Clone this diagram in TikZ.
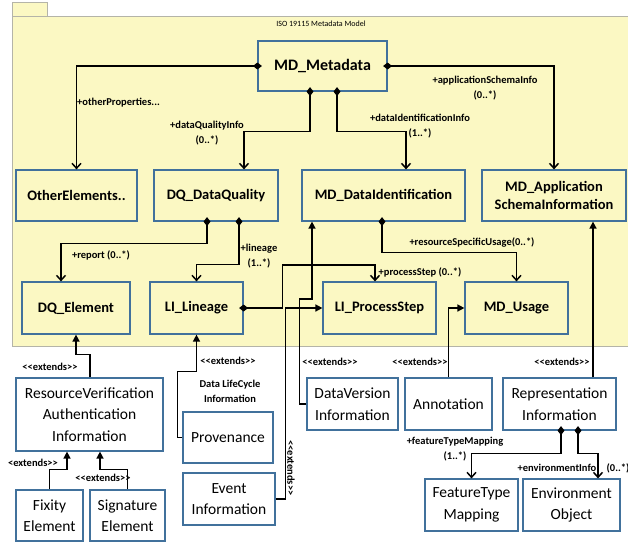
\documentclass[tikz,border=0pt]{standalone}
\usepackage{fontspec}
\setmainfont{Carlito}
\usepackage{tikz}
\usetikzlibrary{arrows.meta,positioning}
\definecolor{pkgyellow}{HTML}{FBF8C3}
\definecolor{pkgline}{HTML}{B4B4A8}
\definecolor{boxblue}{HTML}{41719C}
\newcommand{\xtends}{<\kern0pt<extends>\kern0pt>}

\begin{document}
\begin{tikzpicture}[x=1pt,y=-1pt,
  umlbox/.style={draw=boxblue,line width=1.2pt,fill=pkgyellow,align=center,inner sep=0pt,minimum height=51pt,font=\bfseries\fontsize{14.5}{18}\selectfont},
  extbox/.style={draw=boxblue,line width=1.2pt,fill=white,align=center,inner sep=0pt,minimum height=52pt,font=\fontsize{15.5}{21.5}\selectfont},
  lbl/.style={inner sep=0pt,align=center,font=\bfseries\fontsize{10.5}{15}\selectfont},
  comp/.style={line width=1.5pt,{Diamond[length=9pt,width=7pt]}-{Straight Barb[length=5pt,width=9pt]},shorten <=-4.5pt},
  ext/.style={line width=1.5pt,-{Triangle[length=7pt,width=7pt]}}]
\useasboundingbox (0,0) rectangle (628,542);
\fill[white] (0,0) rectangle (628,542);
\draw[pkgline,fill=pkgyellow] (12,2) rectangle (47,16);
\draw[pkgline,fill=pkgyellow] (12,16) rectangle (632,346);
\node[inner sep=0pt,font=\fontsize{8}{9}\selectfont] (title) at (321,24) {ISO 19115 Metadata Model};

\node[umlbox,minimum width=129pt,minimum height=50pt,font=\bfseries\fontsize{16}{19}\selectfont] (meta) at (322.5,66) {MD\_Metadata};
\node[umlbox,minimum width=121pt] (other) at (76.5,195.5) {OtherElements..};
\node[umlbox,minimum width=124pt] (dq) at (216,195.5) {DQ\_DataQuality};
\node[umlbox,minimum width=163pt] (ident) at (383.5,195.5) {MD\_DataIdentification};
\node[umlbox,minimum width=144pt] (app) at (554,195.5) {MD\_Application\\SchemaInformation};
\node[umlbox,minimum width=108pt,minimum height=52pt] (dqel) at (76,308) {DQ\_Element};
\node[umlbox,minimum width=93pt,minimum height=52pt] (lin) at (196.5,308) {LI\_Lineage};
\node[umlbox,minimum width=113pt,minimum height=52pt] (pstep) at (379.5,308) {LI\_ProcessStep};
\node[umlbox,minimum width=103pt,minimum height=52pt] (usage) at (516.5,308) {MD\_Usage};

\node[extbox,minimum width=147pt,minimum height=73pt] (rvai) at (89.5,414.5) {ResourceVerification\\Authentication\\Information};
\node[extbox,minimum width=67pt,minimum height=51pt] (fixity) at (49.5,515.5) {Fixity\\Element};
\node[extbox,minimum width=75pt,minimum height=51pt] (sig) at (127.5,515.5) {Signature\\Element};
\node[extbox,minimum width=90pt,minimum height=51pt] (prov) at (228,437.5) {Provenance};
\node[extbox,minimum width=92pt] (event) at (229,499) {Event\\Information};
\node[extbox,minimum width=91pt] (dver) at (352.5,404) {DataVersion\\Information};
\node[extbox,minimum width=87pt] (annot) at (448.5,404) {Annotation};
\node[extbox,minimum width=113pt] (repr) at (559.5,404) {Representation\\Information};
\node[extbox,minimum width=93pt] (ftm) at (471.5,505) {FeatureType\\Mapping};
\node[extbox,minimum width=97pt] (env) at (571.5,505) {Environment\\Object};

\draw[comp] (meta.west) -| (other.north);
\draw[comp] ([xshift=-12.5pt]meta.south) -- ++(0,40) -| ([xshift=28pt]dq.north);
\draw[comp] ([xshift=14.5pt]meta.south) -- ++(0,40) -| ([xshift=22.5pt]ident.north);
\draw[comp] (meta.east) -| (app.north);
\draw[comp] ([xshift=-9pt]dq.south) -- ++(0,22) -| ([xshift=-15pt]dqel.north);
\draw[comp] ([xshift=23pt]dq.south) -- ++(0,43) -| (lin.north);
\draw[comp] (lin.east) -- ++(39,0) -- ++(0,-43) -| ([xshift=-4.5pt]pstep.north);
\draw[comp] ([xshift=-1.5pt]ident.south) -- ++(0,31) -| (usage.north);
\draw[comp] ([xshift=1.5pt]repr.south) -- ++(0,23) -| (ftm.north);
\draw[comp] ([xshift=18.5pt]repr.south) -- ++(0,23) -| ([xshift=26.5pt]env.north);

\draw[ext] (event.east) -- ++(10,0) |- (pstep.west);
\draw[ext] (dver.west) -- ++(-7,0) -- ++(0,-105) -| ([xshift=-71.5pt]ident.south);
\draw[ext] (annot.north) |- (usage.west);
\draw[ext] ([xshift=33.5pt]repr.north) -- ([xshift=39pt]app.south);
\draw[ext] ([xshift=0.5pt]rvai.north) -- ++(0,-23) -| (dqel.south);
\draw[ext] (prov.west) -- ++(-5,0) -- ++(0,-66) -| (lin.south);
\draw[ext] (fixity.north) -- ++(0,-20) -| ([xshift=-22.5pt]rvai.south);
\draw[ext] (sig.north) -- ++(0,-20) -| ([xshift=10.5pt]rvai.south);

\node[lbl,anchor=west] (lother) at (77,103) {+otherProperties...};
\node[lbl] (ldq) at (207,133) {+dataQualityInfo\\(0..*)};
\node[lbl] (lident) at (420,126) {+dataIdentificationInfo\\(1..*)};
\node[lbl] (lapp) at (485,88) {+applicationSchemaInfo\\(0..*)};
\node[lbl] (lrep) at (101,255) {+report (0..*)};
\node[lbl] (llin) at (259,256) {+lineage\\(1..*)};
\node[lbl] (lstep) at (420,272) {+processStep (0..*)};
\node[lbl] (lusage) at (472,242) {+resourceSpecificUsage(0..*)};
\node[lbl] (lftm) at (455,449) {+featureTypeMapping\\(1..*)};
\node[lbl] (lenv) at (557,468) {+environmentInfo};
\node[lbl] (lenvm) at (618,468) {(0..*)};
\node[lbl] (xrvai) at (50,367) {\xtends};
\node[lbl] (xprov) at (228,361) {\xtends};
\node[lbl] (lcycle) at (230,391) {Data LifeCycle\\Information};
\node[lbl] (xfix) at (33,463) {<extends>\kern0pt>};
\node[lbl] (xsig) at (103,478) {\xtends};
\node[lbl,rotate=-90] (xevent) at (291,468) {\xtends};
\node[lbl] (xdver) at (330,362) {\xtends};
\node[lbl] (xannot) at (420,362) {\xtends};
\node[lbl] (xrepr) at (562,362) {\xtends};
\end{tikzpicture}
\end{document}
